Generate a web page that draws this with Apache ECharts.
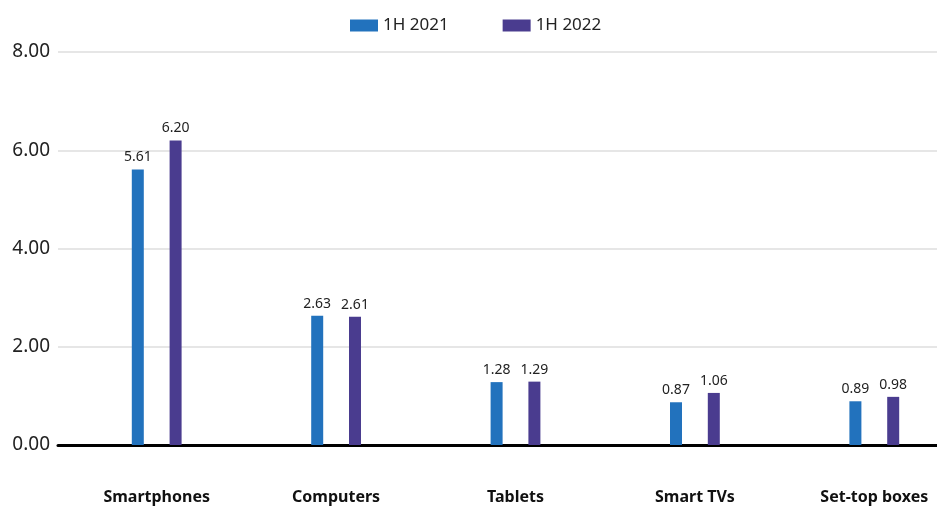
<!DOCTYPE html>
<html>
<head>
<meta charset="utf-8">
<script src="https://cdn.jsdelivr.net/npm/echarts@6/dist/echarts.min.js"></script>
<style>html,body{margin:0;padding:0;background:#fff}#c{width:937px;height:512px}</style>
</head>
<body>
<div id="c"></div>
<script>
const categories = ['Smartphones', 'Computers', 'Tablets', 'Smart TVs', 'Set-top boxes'];
const series2021 = [5.61, 2.63, 1.28, 0.87, 0.89];
const series2022 = [6.20, 2.61, 1.29, 1.06, 0.98];
const seriesNames = ['1H 2021', '1H 2022'];
const yTicks = [0, 2, 4, 6, 8];

const font = '"Noto Sans", sans-serif';
const chart = echarts.init(document.getElementById('c'), null, {renderer: 'canvas'});
chart.setOption({
  animation: false,
  textStyle: {fontFamily: font},
  legend: {
    top: 12, left: 345,
    itemWidth: 28, itemHeight: 12, itemGap: 54,
    icon: 'rect',
    textStyle: {fontSize: 17, color: '#222', fontFamily: font},
    data: seriesNames
  },
  grid: [
    {left: 58, right: 0, top: 52, bottom: 67, outerBoundsMode: 'none', containLabel: false},
    {left: 67, width: 897, top: 52, bottom: 67, outerBoundsMode: 'none', containLabel: false}
  ],
  xAxis: [
    {gridIndex: 0, type: 'category', data: categories,
     axisLine: {lineStyle: {color: '#000', width: 3}}, axisTick: {show: false}, axisLabel: {show: false}},
    {gridIndex: 1, type: 'category', data: categories,
     axisLine: {show: false}, axisTick: {show: false},
     axisLabel: {margin: 44, fontSize: 16, fontWeight: 'bold', color: '#111', fontFamily: font}}
  ],
  yAxis: [
    {gridIndex: 0, type: 'value', min: yTicks[0], max: yTicks[yTicks.length - 1], interval: 2,
     axisLine: {show: false}, axisTick: {show: false},
     axisLabel: {margin: 8, fontSize: 19, color: '#222', fontFamily: font, formatter: v => v.toFixed(2)},
     splitLine: {lineStyle: {color: '#e6e6e6', width: 2}}},
    {gridIndex: 1, type: 'value', min: yTicks[0], max: yTicks[yTicks.length - 1], interval: 2, show: false,
     splitLine: {show: false}}
  ],
  series: [
    {name: seriesNames[0], type: 'bar', xAxisIndex: 1, yAxisIndex: 1, data: series2021,
     barWidth: 12, barGap: '215%', itemStyle: {color: '#2272bd'},
     label: {show: true, position: 'top', distance: 5, fontSize: 14, color: '#222', fontFamily: font, formatter: p => p.value.toFixed(2)}},
    {name: seriesNames[1], type: 'bar', xAxisIndex: 1, yAxisIndex: 1, data: series2022,
     barWidth: 12, barGap: '215%', itemStyle: {color: '#4a3c8f'},
     label: {show: true, position: 'top', distance: 5, fontSize: 14, color: '#222', fontFamily: font, formatter: p => p.value.toFixed(2)}}
  ]
});
</script>
</body>
</html>
